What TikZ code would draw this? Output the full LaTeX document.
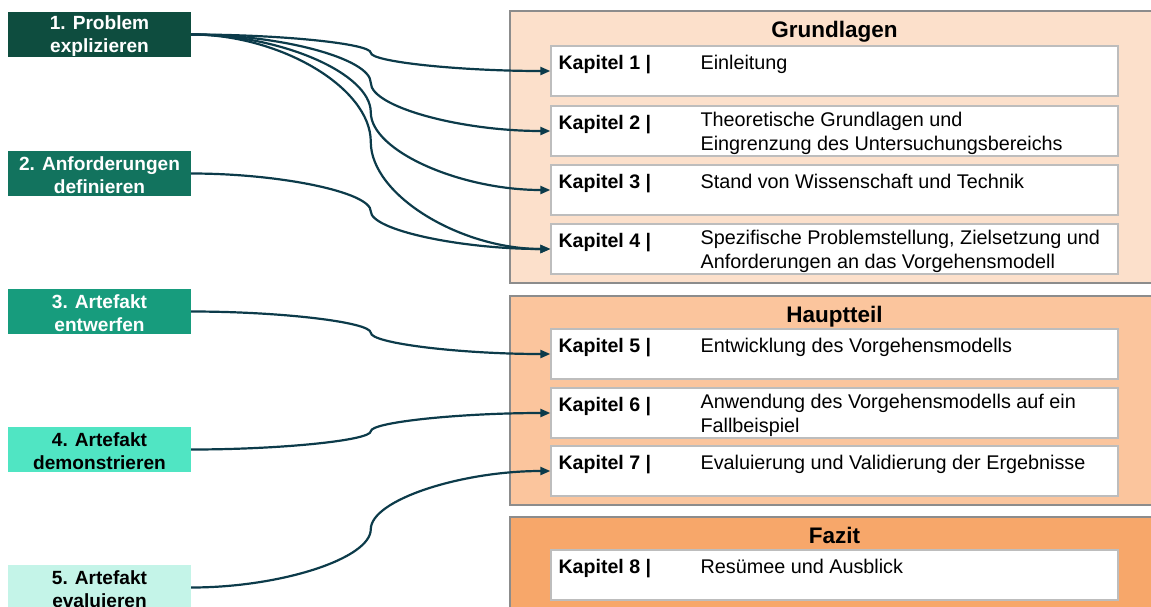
\documentclass[tikz,border=0pt]{standalone}
\usepackage{fontspec}
\setmainfont{Liberation Sans}
\usetikzlibrary{arrows.meta,calc}

\definecolor{stepone}{HTML}{0E4D3F}
\definecolor{steptwo}{HTML}{12735E}
\definecolor{stepthree}{HTML}{179C7D}
\definecolor{stepfour}{HTML}{50E5C3}
\definecolor{stepfive}{HTML}{C4F4E8}
\definecolor{partone}{HTML}{FCE0CB}
\definecolor{parttwo}{HTML}{FBC59D}
\definecolor{partthree}{HTML}{F7A76A}
\definecolor{partline}{HTML}{8C8C8C}
\definecolor{kapline}{HTML}{BDBDBD}
\definecolor{linkcol}{HTML}{0C3B4A}

\tikzset{
	stepbox/.style={fill=#1, minimum width=183pt, minimum height=45pt, inner sep=0pt},
	steptext/.style={inner sep=0pt, align=center, yshift=-1.5pt,
		font=\fontsize{19.1}{22.5}\selectfont\bfseries},
	partbox/.style={draw=partline, line width=1.3pt, fill=#1, inner sep=0pt},
	kapbox/.style={draw=kapline, line width=1.3pt, fill=white, minimum width=567pt,
		minimum height=50pt, inner sep=0pt},
	kaplabel/.style={anchor=base west, inner sep=0pt, font=\fontsize{19.6}{24}\selectfont\bfseries},
	kaptext/.style={anchor=base west, inner sep=0pt, align=left, font=\fontsize{19.8}{24}\selectfont},
	parttitle/.style={anchor=base, inner sep=0pt, font=\fontsize{22.5}{26}\selectfont\bfseries},
	pptcurve/.style={to path={
		let \p1=(\tikztostart), \p2=(\tikztotarget), \p3=($(\p1)!0.5!(\p2)$) in
		.. controls ($(\p1)!0.5!(\x3,\y1)$) and (\x3,{0.75*\y1+0.25*\y2}) .. (\p3)
		.. controls (\x3,{0.25*\y1+0.75*\y2}) and ($(\x3,\y2)!0.5!(\p2)$) .. (\tikztotarget)}},
	link/.style={draw=linkcol, line width=2.2pt, -{Triangle[length=10pt,width=8pt]}, pptcurve}
}

\begin{document}
\begin{tikzpicture}[x=1pt,y=-1pt]
	\useasboundingbox (0,0) rectangle (1151,606);
	\clip (0,0) rectangle (1151,606);

	% steps
	\node [stepbox=stepone] (s1) at (99.5,34.5) {};
	\node [steptext, text=white] (s1txt) at (s1.center) {1. Problem\\explizieren};
	\node [stepbox=steptwo] (s2) at (99.5,173.5) {};
	\node [steptext, text=white] (s2txt) at (s2.center) {2. Anforderungen\\definieren};
	\node [stepbox=stepthree] (s3) at (99.5,311.5) {};
	\node [steptext, text=white] (s3txt) at (s3.center) {3. Artefakt\\entwerfen};
	\node [stepbox=stepfour] (s4) at (99.5,449.5) {};
	\node [steptext, text=black] (s4txt) at (s4.center) {4. Artefakt\\demonstrieren};
	\node [stepbox=stepfive] (s5) at (99.5,587.5) {};
	\node [steptext, text=black] (s5txt) at (s5.center) {5. Artefakt\\evaluieren};

	% parts
	\node [partbox=partone, minimum width=660pt, minimum height=272pt] (grund) at (840,147) {};
	\node [partbox=parttwo, minimum width=660pt, minimum height=209pt] (haupt) at (840,400.5) {};
	\node [partbox=partthree, minimum width=660pt, minimum height=113pt] (fazit) at (840,573.5) {};

	\node [parttitle] (grundtitle) at (834.5,37) {Grundlagen};
	\node [parttitle] (haupttitle) at (834.5,322) {Hauptteil};
	\node [parttitle] (fazittitle) at (834.5,543) {Fazit};

	% chapters
	\node [kapbox] (k1) at (834.5,71) {};
	\node [kaplabel] (k1lab) at ([xshift=8pt,yshift=-24pt]k1.north west) {Kapitel 1 |};
	\node [kaptext] (k1txt) at ([xshift=150pt,yshift=-24pt]k1.north west) {Einleitung};

	\node [kapbox] (k2) at (834.5,131) {};
	\node [kaplabel] (k2lab) at ([xshift=8pt,yshift=-24pt]k2.north west) {Kapitel 2 |};
	\node [kaptext] (k2txt) at ([xshift=150pt,yshift=-45pt]k2.north west) {Theoretische Grundlagen und\\Eingrenzung des Untersuchungsbereichs};

	\node [kapbox] (k3) at (834.5,190) {};
	\node [kaplabel] (k3lab) at ([xshift=8pt,yshift=-24pt]k3.north west) {Kapitel 3 |};
	\node [kaptext] (k3txt) at ([xshift=150pt,yshift=-24pt]k3.north west) {Stand von Wissenschaft und Technik};

	\node [kapbox] (k4) at (834.5,249) {};
	\node [kaplabel] (k4lab) at ([xshift=8pt,yshift=-24pt]k4.north west) {Kapitel 4 |};
	\node [kaptext] (k4txt) at ([xshift=150pt,yshift=-45pt]k4.north west) {Spezifische Problemstellung, Zielsetzung und\\Anforderungen an das Vorgehensmodell};

	\node [kapbox] (k5) at (834.5,354) {};
	\node [kaplabel] (k5lab) at ([xshift=8pt,yshift=-24pt]k5.north west) {Kapitel 5 |};
	\node [kaptext] (k5txt) at ([xshift=150pt,yshift=-24pt]k5.north west) {Entwicklung des Vorgehensmodells};

	\node [kapbox] (k6) at (834.5,413) {};
	\node [kaplabel] (k6lab) at ([xshift=8pt,yshift=-24pt]k6.north west) {Kapitel 6 |};
	\node [kaptext] (k6txt) at ([xshift=150pt,yshift=-45pt]k6.north west) {Anwendung des Vorgehensmodells auf ein\\Fallbeispiel};

	\node [kapbox] (k7) at (834.5,471) {};
	\node [kaplabel] (k7lab) at ([xshift=8pt,yshift=-24pt]k7.north west) {Kapitel 7 |};
	\node [kaptext] (k7txt) at ([xshift=150pt,yshift=-24pt]k7.north west) {Evaluierung und Validierung der Ergebnisse};

	\node [kapbox] (k8) at (834.5,575) {};
	\node [kaplabel] (k8lab) at ([xshift=8pt,yshift=-24pt]k8.north west) {Kapitel 8 |};
	\node [kaptext] (k8txt) at ([xshift=150pt,yshift=-24pt]k8.north west) {Resümee und Ausblick};

	% links
	\draw [link] (s1.east) to (k1.west);
	\draw [link] (s1.east) to (k2.west);
	\draw [link] (s1.east) to (k3.west);
	\draw [link] (s1.east) to (k4.west);
	\draw [link] (s2.east) to (k4.west);
	\draw [link] (s3.east) to (k5.west);
	\draw [link] (s4.east) to (k6.west);
	\draw [link] (s5.east) to (k7.west);
\end{tikzpicture}
\end{document}
